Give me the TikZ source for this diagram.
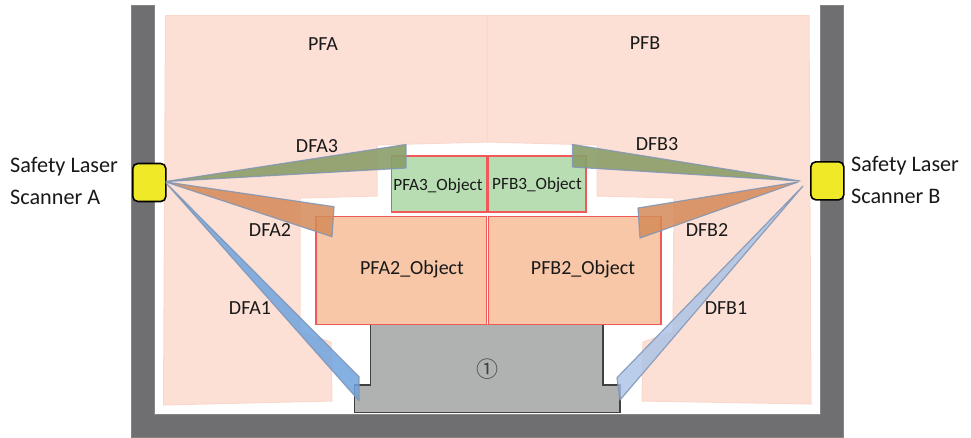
\documentclass[tikz,border=0pt]{standalone}
\usepackage{fontspec}
\setmainfont{Carlito}
\newfontfamily\cjkfont{Noto Sans CJK JP}
\tikzset{
  wall/.style={fill=wallgray,draw=wallgray!85!white,line width=.6pt},
  zone/.style={fill=zonepink,draw=zoneedge,line width=1pt},
  objgreen/.style={fill=objg,draw=objred,line width=1.5pt},
  objorange/.style={fill=objo,draw=objred,line width=1.5pt},
  machine/.style={fill=machgray},
  machedge/.style={draw=machline,line width=1.1pt},
  scanner/.style={fill=scanyellow,draw=black,line width=1.6pt,rounded corners=5pt},
  beam/.style={draw=beamedge,line width=1.2pt,line join=round,draw opacity=.85},
  lab/.style={inner sep=0pt,text=black!90,font=\fontsize{20}{24}\selectfont},
  labs/.style={inner sep=0pt,text=black!90,font=\fontsize{17.2}{20}\selectfont},
  side/.style={inner sep=0pt,align=left,anchor=west,text=black!90,font=\fontsize{22.2}{32}\selectfont},
}
\definecolor{wallgray}{HTML}{6F6F71}
\definecolor{zonepink}{HTML}{FDE0D5}
\definecolor{zoneedge}{HTML}{FBD8CC}
\definecolor{objg}{HTML}{B8DDB2}
\definecolor{objo}{HTML}{F8C7A8}
\definecolor{objred}{HTML}{F0595A}
\definecolor{machgray}{HTML}{B0B2B1}
\definecolor{machline}{HTML}{404040}
\definecolor{scanyellow}{HTML}{F0E927}
\definecolor{beamedge}{HTML}{7F95B5}
\definecolor{olive}{HTML}{8A9E68}
\definecolor{orangeb}{HTML}{D58A58}
\definecolor{blueb}{HTML}{6FA3DE}
\definecolor{paleb}{HTML}{A9C2E6}
\begin{document}
\begin{tikzpicture}[x=1pt,y=-1pt]
\useasboundingbox (0,0) rectangle (971,437);
\fill[white] (0,0) rectangle (971,437);
% walls
\path[wall] (131.5,5) -- (154,5) -- (154,414) -- (820.7,414) -- (820.7,5) -- (843,5) -- (843,437) -- (131.5,437) -- cycle;
% protective fields
\path[zone] (165.5,15.5) -- (487,15.5) -- (487,142) -- (377,145) -- (377,196) -- (300,198) -- (300,332) -- (331,342) -- (332,401) -- (163.5,405) -- cycle;
\path[zone] (487.5,15.5) -- (809,15.5) -- (811,404) -- (642,401) -- (643,342) -- (673,332) -- (674,198) -- (597,196) -- (597,145) -- (487.5,142) -- cycle;
% machine
\path[machine] (370.7,324) -- (370.7,385) -- (354.3,385) -- (354.3,412.7) -- (620,412.7) -- (620,385) -- (603,385) -- (603,324) -- cycle;
\path[machedge] (370.7,324) -- (370.7,385) -- (354.3,385) -- (354.3,412.7) -- (620,412.7) -- (620,385) -- (603,385) -- (603,324);
% objects
\node[objgreen,minimum width=95pt,minimum height=56pt,inner sep=0pt,anchor=north west] (pfa3) at (390.7,155) {};
\node[objgreen,minimum width=98pt,minimum height=56pt,inner sep=0pt,anchor=north west] (pfb3) at (487,155) {};
\node[objorange,minimum width=170.5pt,minimum height=108pt,inner sep=0pt,anchor=north west] (pfa2) at (315,215.7) {};
\node[objorange,minimum width=172.5pt,minimum height=108pt,inner sep=0pt,anchor=north west] (pfb2) at (487.5,215.7) {};
% scanners
\node[scanner,minimum width=33pt,minimum height=38pt,inner sep=0pt,anchor=north west] (scA) at (132,162.7) {};
\node[scanner,minimum width=33pt,minimum height=38pt,inner sep=0pt,anchor=north west] (scB) at (810,161) {};
% beams
\path[beam,fill=olive,fill opacity=.9] (166,181.5) -- (406,144.5) -- (406,168) -- cycle;
\path[beam,fill=orangeb,fill opacity=.85] (166,182) -- (334,206.7) -- (332,236.7) -- cycle;
\path[beam,fill=blueb,fill opacity=.85] (166,183) -- (359,376.7) -- (359,400.7) -- cycle;
\path[beam,fill=olive,fill opacity=.9] (800,181) -- (572.5,144.5) -- (572.5,167) -- cycle;
\path[beam,fill=orangeb,fill opacity=.85] (798,182) -- (638,208) -- (640,238) -- cycle;
\path[beam,fill=paleb,fill opacity=.8] (803,186) -- (617,377.7) -- (620,400) -- cycle;
% labels
\node[lab] (tPFA) at (323,44) {PFA};
\node[lab] (tPFB) at (645,43) {PFB};
\node[lab] (tDFA3) at (317,146) {DFA3};
\node[lab] (tDFB3) at (657,144) {DFB3};
\node[lab] (tDFA2) at (270,230) {DFA2};
\node[lab] (tDFB2) at (707,230) {DFB2};
\node[lab] (tDFA1) at (250,308) {DFA1};
\node[lab] (tDFB1) at (726,308) {DFB1};
\node[labs] (tPFA3) at (438,186) {PFA3\_Object};
\node[labs] (tPFB3) at (537,185) {PFB3\_Object};
\node[lab] (tPFA2) at (412,269) {PFA2\_Object};
\node[lab] (tPFB2) at (583,269) {PFB2\_Object};
\node[inner sep=0pt,text=black!75,font=\cjkfont\fontsize{22}{24}\selectfont] (tM) at (487,369) {①};
\node[side] (tA) at (10,181) {Safety Laser\\Scanner A};
\node[side] (tB) at (851,179.5) {Safety Laser\\Scanner B};
\end{tikzpicture}
\end{document}
